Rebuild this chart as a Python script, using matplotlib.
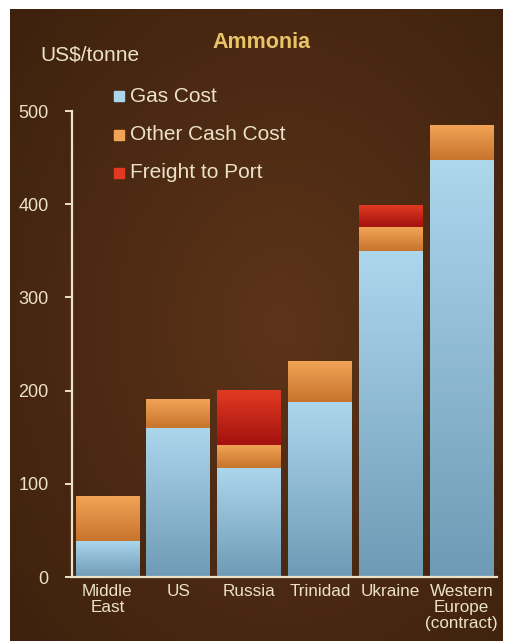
import numpy as np
import matplotlib
matplotlib.use("Agg")
import matplotlib.pyplot as plt
from matplotlib.colors import LinearSegmentedColormap

plt.rcParams['font.family'] = ['Liberation Sans', 'DejaVu Sans']

# data (US$/tonne)
regions = ["Middle\nEast", "US", "Russia", "Trinidad", "Ukraine", "Western\nEurope\n(contract)"]
gas_cost = [39, 160, 117, 188, 350, 447]
other_cash = [48, 31, 25, 43, 25, 37]
freight = [0, 0, 58, 0, 23, 0]
series_names = ["Gas Cost", "Other Cash Cost", "Freight to Port"]
yticks = [0, 100, 200, 300, 400, 500]

txt = "#ece2c8"
grads = {
    "gas": ("#6f9bb6", "#acd6ec"),
    "other": ("#c7742c", "#f2a456"),
    "freight": ("#a3120e", "#e23a22"),
}

fig = plt.figure(figsize=(5.05, 6.41), dpi=100, facecolor="white")

# brown backdrop, smooth gradient standing in for the leather texture
bg = fig.add_axes([10 / 505, 0, 493 / 505, 632 / 641])
bg.axis("off")
yy, xx = np.mgrid[0:1:200j, 0:1:160j]
r = np.sqrt((xx - 0.55) ** 2 + (yy - 0.5) ** 2)
bgcm = LinearSegmentedColormap.from_list("bg", ["#5c3419", "#4d2a13", "#3d210d"])
bg.imshow(r, cmap=bgcm, aspect="auto", extent=[0, 1, 0, 1], vmin=0, vmax=0.75)

ax = fig.add_axes([72 / 505, 64 / 641, 425 / 505, 466 / 641])
ax.set_facecolor("none")

x = np.arange(len(regions))
w = 0.9


def grad_bar(xc, y0, h, key):
    if h <= 0:
        return
    cm = LinearSegmentedColormap.from_list(key, grads[key])
    g = np.linspace(0, 1, 64).reshape(-1, 1)
    ax.imshow(g, cmap=cm, origin="lower", aspect="auto",
              extent=[xc - w / 2, xc + w / 2, y0, y0 + h], zorder=2)


for i in x:
    grad_bar(i, 0, gas_cost[i], "gas")
    grad_bar(i, gas_cost[i], other_cash[i], "other")
    grad_bar(i, gas_cost[i] + other_cash[i], freight[i], "freight")
ax.set_xlim(-0.5, len(regions) - 0.5)
ax.set_ylim(0, 500)

for s in ["top", "right"]:
    ax.spines[s].set_visible(False)
for s in ["left", "bottom"]:
    ax.spines[s].set_color(txt)
    ax.spines[s].set_linewidth(1.6)
ax.spines["bottom"].set_zorder(3)

ax.set_yticks(yticks)
ax.set_yticklabels([str(v) for v in yticks])
ax.tick_params(axis="y", colors=txt, labelcolor=txt, labelsize=13, length=5, width=1.4, pad=12)
ax.set_xticks(x)
ax.set_xticklabels(regions, linespacing=1.1)
ax.tick_params(axis="x", length=0, labelcolor=txt, labelsize=12.3, pad=5)

fig.text(40 / 505, 1 - 55 / 641, "US$/tonne", color=txt, fontsize=15, va="center")
fig.text(262 / 505, 1 - 42 / 641, "Ammonia", color="#e9c466", fontsize=15.5,
         fontweight="bold", ha="center", va="center")

leg_cols = [grads["gas"][1], grads["other"][1], grads["freight"][1]]
for k, (name, c) in enumerate(zip(series_names, leg_cols)):
    yf = 1 - (96 + 38.5 * k) / 641
    fig.patches.append(plt.Rectangle((114 / 505, yf - 5 / 641), 10 / 505, 10 / 641,
                                     transform=fig.transFigure, color=c))
    fig.text(130 / 505, yf, name, color=txt, fontsize=15, va="center")

fig.savefig("out.png", dpi=100, facecolor="white")
